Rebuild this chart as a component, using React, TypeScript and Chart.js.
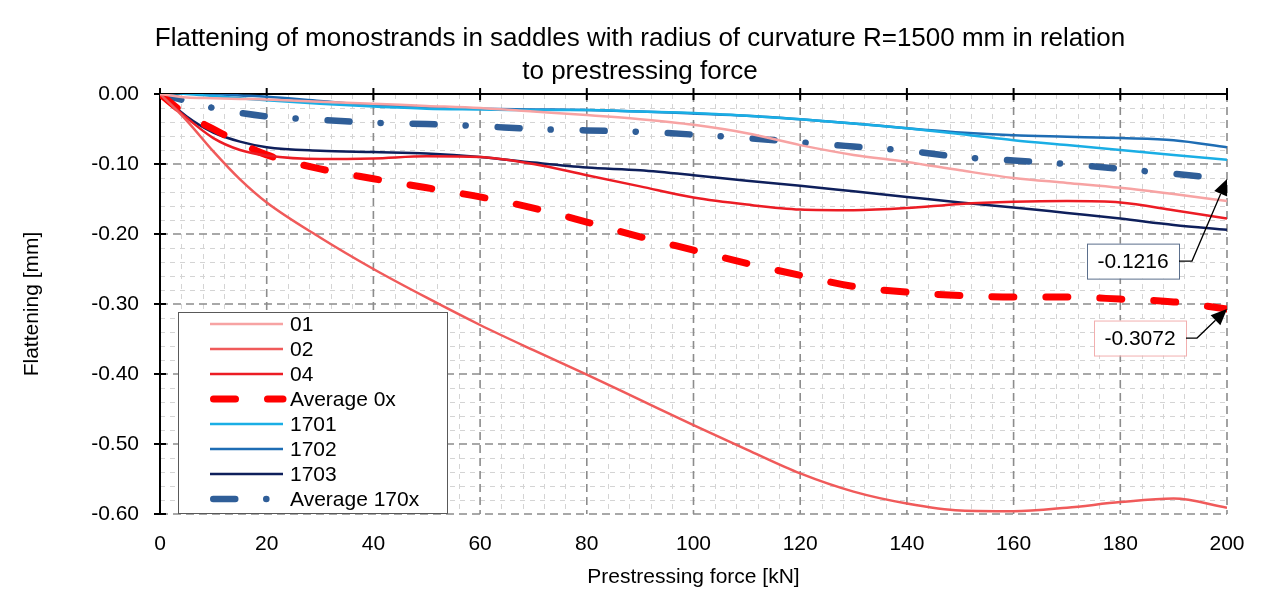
import React, { useEffect, useRef } from "react"
import { Chart, registerables } from "chart.js"
import type { Plugin, ChartConfiguration } from "chart.js"

Chart.register(...registerables)

// prestressing force [kN]
const forceKN = [0, 5, 10, 15, 20, 30, 40, 50, 60, 70, 80, 90, 100, 110, 120, 130, 140, 150, 160, 170, 180, 190, 200]

// flattening [mm]
const s01 = [0, -0.005, -0.006, -0.007, -0.008, -0.011, -0.014, -0.017, -0.02, -0.025, -0.03, -0.036, -0.044, -0.056, -0.073, -0.087, -0.097, -0.109, -0.12, -0.127, -0.134, -0.143, -0.153]
const s02 = [0, -0.038, -0.082, -0.122, -0.155, -0.205, -0.25, -0.291, -0.33, -0.366, -0.401, -0.437, -0.473, -0.508, -0.542, -0.568, -0.585, -0.595, -0.596, -0.591, -0.583, -0.578, -0.591]
const s04 = [0, -0.034, -0.063, -0.08, -0.088, -0.093, -0.092, -0.089, -0.09, -0.1, -0.116, -0.132, -0.148, -0.158, -0.165, -0.166, -0.163, -0.157, -0.154, -0.153, -0.155, -0.166, -0.178]
const avg0x = [0, -0.03, -0.05, -0.07, -0.087, -0.107, -0.121, -0.134, -0.147, -0.163, -0.183, -0.204, -0.223, -0.242, -0.259, -0.275, -0.283, -0.288, -0.29, -0.29, -0.293, -0.297, -0.3072]
const s1701 = [0.002, 0, -0.003, -0.006, -0.009, -0.014, -0.018, -0.021, -0.022, -0.023, -0.023, -0.025, -0.027, -0.031, -0.036, -0.042, -0.049, -0.057, -0.066, -0.073, -0.08, -0.087, -0.094]
const s1702 = [0.004, 0.002, 0, -0.002, -0.004, -0.01, -0.016, -0.019, -0.021, -0.022, -0.023, -0.025, -0.028, -0.031, -0.036, -0.042, -0.049, -0.055, -0.059, -0.061, -0.063, -0.066, -0.076]
const s1703 = [0, -0.032, -0.055, -0.068, -0.076, -0.081, -0.083, -0.085, -0.09, -0.098, -0.105, -0.109, -0.116, -0.124, -0.131, -0.139, -0.147, -0.155, -0.162, -0.17, -0.178, -0.187, -0.194]
const avg170x = [0, -0.01, -0.02, -0.027, -0.032, -0.037, -0.041, -0.043, -0.046, -0.05, -0.052, -0.054, -0.058, -0.063, -0.069, -0.075, -0.081, -0.09, -0.095, -0.1, -0.107, -0.114, -0.1216]

const titleLines = [
  "Flattening of monostrands in saddles with radius of curvature R=1500 mm in relation",
  "to prestressing force",
]
const xTitle = "Prestressing force [kN]"
const yTitle = "Flattening [mm]"

// end-of-curve callouts
const calloutAvg170 = avg170x[avg170x.length - 1]
const calloutAvg0 = avg0x[avg0x.length - 1]

const FONT = '"Liberation Sans", Arial, sans-serif'

type Series = { label: string, values: number[], color: string, width: number, dash: number[], cap: CanvasLineCap }

const series: Series[] = [
  { label: "01", values: s01, color: "#F7A3A3", width: 2.5, dash: [], cap: "butt" },
  { label: "02", values: s02, color: "#F05A5A", width: 2.5, dash: [], cap: "butt" },
  { label: "04", values: s04, color: "#EC1C24", width: 2.5, dash: [], cap: "butt" },
  { label: "Average 0x", values: avg0x, color: "#FF0000", width: 7, dash: [22, 32], cap: "round" },
  { label: "1701", values: s1701, color: "#1AAEE5", width: 2.5, dash: [], cap: "butt" },
  { label: "1702", values: s1702, color: "#1E6DB4", width: 2.5, dash: [], cap: "butt" },
  { label: "1703", values: s1703, color: "#0E1F5B", width: 2.5, dash: [], cap: "butt" },
  { label: "Average 170x", values: avg170x, color: "#2F5E98", width: 6.5, dash: [22, 31, 0.1, 32], cap: "round" },
]

const gridPlugin: Plugin = {
  id: "excelGrid",
  beforeDatasetsDraw(chart) {
    const { ctx, chartArea: a } = chart
    const x = chart.scales.x
    const y = chart.scales.y
    ctx.save()
    // minor grid
    ctx.strokeStyle = "#D4D4D4"
    ctx.lineWidth = 1
    ctx.setLineDash([5, 5])
    for (let v = 0; v <= 200; v += 4) {
      if (v % 20 === 0) continue
      const px = Math.round(x.getPixelForValue(v)) + 0.5
      ctx.beginPath(); ctx.moveTo(px, a.top); ctx.lineTo(px, a.bottom); ctx.stroke()
    }
    for (let k = 1; k <= 30; k++) {
      if (k % 5 === 0) continue
      const py = Math.round(y.getPixelForValue(-k * 0.02)) + 0.5
      ctx.beginPath(); ctx.moveTo(a.left, py); ctx.lineTo(a.right, py); ctx.stroke()
    }
    // major grid
    ctx.strokeStyle = "#8C8C8C"
    ctx.lineWidth = 1.6
    ctx.setLineDash([8, 5])
    for (let v = 20; v <= 200; v += 20) {
      const px = x.getPixelForValue(v)
      ctx.beginPath(); ctx.moveTo(px, a.top); ctx.lineTo(px, a.bottom); ctx.stroke()
    }
    for (let k = 1; k <= 6; k++) {
      const py = y.getPixelForValue(-k * 0.1)
      ctx.beginPath(); ctx.moveTo(a.left, py); ctx.lineTo(a.right, py); ctx.stroke()
    }
    // axes (x axis crosses at 0)
    ctx.setLineDash([])
    ctx.strokeStyle = "#000"
    ctx.lineWidth = 2
    const y0 = y.getPixelForValue(0)
    const x0 = x.getPixelForValue(0)
    ctx.beginPath(); ctx.moveTo(a.left, y0); ctx.lineTo(a.right, y0); ctx.stroke()
    ctx.beginPath(); ctx.moveTo(x0, a.top); ctx.lineTo(x0, a.bottom); ctx.stroke()
    for (let v = 0; v <= 200; v += 20) {
      const px = x.getPixelForValue(v)
      ctx.beginPath(); ctx.moveTo(px, y0 - 6); ctx.lineTo(px, y0 + 6); ctx.stroke()
    }
    for (let k = 0; k <= 6; k++) {
      const py = y.getPixelForValue(-k * 0.1)
      ctx.beginPath(); ctx.moveTo(x0 - 6, py); ctx.lineTo(x0 + 6, py); ctx.stroke()
    }
    ctx.restore()
  },
}

function drawCallout(chart: Chart, text: string, value: number, border: string, offRight: number, offY: number, elbow: number) {
  const { ctx } = chart
  const tipX = chart.scales.x.getPixelForValue(200)
  const tipY = chart.scales.y.getPixelForValue(value)
  const w = 92, h = 35
  const bx = tipX - offRight - w
  const cy = tipY + offY
  ctx.save()
  ctx.fillStyle = "#fff"
  ctx.fillRect(bx, cy - h / 2, w, h)
  ctx.strokeStyle = border
  ctx.lineWidth = 1
  ctx.strokeRect(bx + 0.5, cy - h / 2 + 0.5, w, h)
  ctx.fillStyle = "#000"
  ctx.font = `21px ${FONT}`
  ctx.textAlign = "center"
  ctx.textBaseline = "middle"
  ctx.fillText(text, bx + w / 2, cy + 1)
  // connector
  const ex = bx + w + elbow
  ctx.strokeStyle = "#000"
  ctx.lineWidth = 1.3
  ctx.beginPath(); ctx.moveTo(bx + w, cy); ctx.lineTo(ex, cy)
  const ang = Math.atan2(tipY - cy, tipX - ex)
  const hl = 16, hw = 7
  const bxh = tipX - hl * Math.cos(ang), byh = tipY - hl * Math.sin(ang)
  ctx.lineTo(bxh, byh); ctx.stroke()
  ctx.fillStyle = "#000"
  ctx.beginPath()
  ctx.moveTo(tipX, tipY)
  ctx.lineTo(bxh + hw * Math.sin(ang), byh - hw * Math.cos(ang))
  ctx.lineTo(bxh - hw * Math.sin(ang), byh + hw * Math.cos(ang))
  ctx.closePath(); ctx.fill()
  ctx.restore()
}

const decorPlugin: Plugin = {
  id: "decor",
  afterDraw(chart) {
    const { ctx, chartArea: a } = chart
    ctx.save()
    ctx.fillStyle = "#000"
    ctx.textAlign = "center"
    ctx.textBaseline = "middle"
    ctx.font = `26px ${FONT}`
    titleLines.forEach((t, i) => ctx.fillText(t, 640, 39 + i * 33))
    ctx.font = `21px ${FONT}`
    ctx.fillText(xTitle, (a.left + a.right) / 2, 577)
    ctx.save()
    ctx.translate(32, (a.top + a.bottom) / 2)
    ctx.rotate(-Math.PI / 2)
    ctx.fillText(yTitle, 0, 0)
    ctx.restore()

    // legend box
    const lx = a.left + 18, ly = a.bottom - 202, lw = 269, lh = 201
    ctx.fillStyle = "#fff"
    ctx.fillRect(lx, ly, lw, lh)
    ctx.strokeStyle = "#595959"
    ctx.lineWidth = 1
    ctx.strokeRect(lx + 0.5, ly + 0.5, lw, lh)
    ctx.font = `21px ${FONT}`
    ctx.textAlign = "left"
    series.forEach((s, i) => {
      const ry = ly + 12 + i * 25
      ctx.save()
      ctx.strokeStyle = s.color
      ctx.lineWidth = s.width
      ctx.lineCap = s.cap
      ctx.setLineDash(s.dash)
      const x1 = lx + 32 + (s.cap === "round" ? s.width / 2 : 0)
      ctx.beginPath(); ctx.moveTo(x1, ry); ctx.lineTo(lx + 105, ry); ctx.stroke()
      ctx.restore()
      ctx.fillStyle = "#000"
      ctx.fillText(s.label, lx + 112, ry + 1)
    })

    drawCallout(chart, calloutAvg170.toString(), calloutAvg170, "#5B6F8C", 48, 82, 13)
    drawCallout(chart, calloutAvg0.toString(), calloutAvg0, "#F2AFAF", 41, 29, 11)
    ctx.restore()
  },
}

export default function App() {
  const canvasRef = useRef<HTMLCanvasElement>(null)

  useEffect(() => {
    if (!canvasRef.current) return
    const config: ChartConfiguration<"line"> = {
      type: "line",
      data: {
        datasets: series.map(s => ({
          label: s.label,
          data: forceKN.map((f, i) => ({ x: f, y: s.values[i] })),
          borderColor: s.color,
          backgroundColor: s.color,
          borderWidth: s.width,
          borderDash: s.dash,
          borderCapStyle: s.cap,
          cubicInterpolationMode: "monotone",
          pointRadius: 0,
          fill: false,
        })),
      },
      options: {
        animation: false,
        responsive: false,
        devicePixelRatio: 1,
        layout: { padding: { top: 94, right: 53, left: 0, bottom: 0 } },
        plugins: { legend: { display: false }, tooltip: { enabled: false }, title: { display: false } },
        scales: {
          x: {
            type: "linear",
            min: 0,
            max: 200,
            grid: { display: false, drawTicks: false },
            border: { display: false },
            ticks: { stepSize: 20, color: "#000", padding: 18, font: { family: FONT, size: 21 }, maxRotation: 0 },
            afterFit: (s) => { s.height = 86 },
          },
          y: {
            type: "linear",
            min: -0.6,
            max: 0,
            grid: { display: false, drawTicks: false },
            border: { display: false },
            ticks: {
              stepSize: 0.1,
              color: "#000",
              padding: 21,
              font: { family: FONT, size: 21 },
              callback: (v) => Number(v).toFixed(2),
            },
            afterFit: (s) => { s.width = 160 },
          },
        },
      },
      plugins: [gridPlugin, decorPlugin],
    }
    const chart = new Chart(canvasRef.current, config)
    return () => chart.destroy()
  }, [])

  return (
    <div style={{ position: "fixed", left: 0, top: 0, width: 1280, height: 600, background: "#fff" }}>
      <canvas ref={canvasRef} width={1280} height={600} />
    </div>
  )
}
